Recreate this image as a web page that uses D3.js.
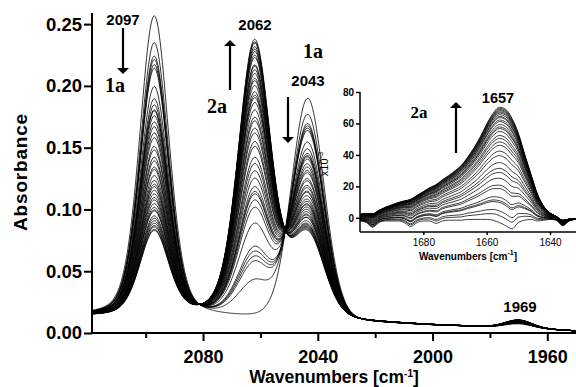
<!DOCTYPE html>
<html><head><meta charset="utf-8">
<script src="https://cdn.jsdelivr.net/npm/d3@7"></script>
<style>body{margin:0;background:#fff} svg{display:block}</style>
</head><body>
<svg id="chart" width="576" height="387"></svg>
<script>
// ---------- main plot data (band amplitudes above baseline, per spectrum) ----------
const bandCenters = [2097, 2062, 2043.5, 1970];
const bandWidths  = [12, 13.5, 13.5, 11];      // FWHM, cm-1
const bandLorentz = [0.3, 0.3, 0.1, 0];
const amp2097 = [0.244,0.222,0.211,0.208,0.204,0.201,0.186,0.176,0.171,0.167,0.166,0.162,0.157,0.153,0.148,0.144,0.137,0.134,0.128,0.125,0.120,0.118,0.113,0.109,0.106,0.104,0.101,0.098,0.095,0.093,0.090,0.087,0.085,0.084,0.080,0.078,0.076,0.074,0.072,0.071,0.069,0.068];
const amp2062 = [0,0.028,0.043,0.047,0.051,0.055,0.074,0.087,0.093,0.098,0.100,0.104,0.111,0.117,0.123,0.128,0.137,0.141,0.148,0.152,0.158,0.161,0.167,0.173,0.177,0.179,0.182,0.187,0.191,0.193,0.197,0.200,0.203,0.204,0.210,0.212,0.215,0.217,0.219,0.222,0.223,0.225];
const amp2043 = [0.179,0.165,0.157,0.155,0.153,0.151,0.141,0.135,0.131,0.129,0.128,0.126,0.122,0.119,0.116,0.114,0.109,0.107,0.103,0.101,0.098,0.097,0.094,0.091,0.089,0.087,0.086,0.084,0.082,0.080,0.078,0.077,0.075,0.075,0.072,0.070,0.069,0.068,0.067,0.066,0.065,0.064];
const amp1969 = [0.0030,0.0034,0.0036,0.0036,0.0037,0.0037,0.0040,0.0042,0.0042,0.0043,0.0043,0.0044,0.0045,0.0046,0.0046,0.0047,0.0048,0.0049,0.0050,0.0050,0.0051,0.0051,0.0052,0.0053,0.0054,0.0054,0.0054,0.0055,0.0055,0.0056,0.0056,0.0057,0.0057,0.0057,0.0058,0.0058,0.0059,0.0059,0.0059,0.0060,0.0060,0.0060];
const baselineWn  = [2119, 2080, 2043, 2000, 1969, 1950];
const baselineAbs = [0.013, 0.012, 0.010, 0.006, 0.004, 0.0015];
const yTicks = [0, 0.05, 0.10, 0.15, 0.20, 0.25];
const xTicksMajor = [2080, 2040, 2000, 1960];
const xTicksMinor = [2100, 2060, 2020, 1980];

// ---------- inset data (x10^-3) ----------
const insetWn  = [1700,1698,1696,1694,1692,1690,1688,1686,1684,1682,1680,1678,1676,1674,1672,1670,1668,1666,1664,1662,1660,1658,1656,1654,1652,1650,1648,1646,1644,1642,1640,1638,1636,1634,1632];
const insetTop = [3,4,5,6,7.5,9,10.5,12,14,15.5,17.5,20,22.5,25,27.5,30.5,34,39,45,52,60,67,71.5,71,66,55,41,28,16,8,3.5,1.5,0.5,0,0];
const insetDips = [-2,-3,-6,-3,-2,-2,-2,-3,-5.5,-3,-2,-2,-3.5,-2,-1.5,-1.5,-1.5,-1,-1,-1,-1,-1.5,-3,-5,-7,-3,-1.5,-1,-2,-1.5,-1,-1.5,-5,-2,-1];
const insetPeaks = [71.5,70.8,70.1,69.4,68.6,67.9,66.9,65.8,65.1,63.6,62.6,60.8,59.3,58.3,56.5,54,52.2,50,47.9,44.3,41.5,37.2,33.6,31.1,27.5,23.2,21.1,15.7,13.6,12.5,7.2,4.3,0];
const insetYTicks = [0, 20, 40, 60, 80];
const insetXTicks = [1680, 1660, 1640];

// ---------- labels ----------
const peakLabels = ["2097", "2062", "2043", "1969"];

const svg = d3.select("#chart");
const FONT = "'Liberation Sans', Arial, Helvetica, sans-serif";
const SERIF = "'Liberation Serif', 'Times New Roman', serif";

// scales
const x = d3.scaleLinear().domain([2118.7, 1950]).range([92, 576]);
const y = d3.scaleLinear().domain([0, 0.259]).range([333, 13]);
const base = d3.scaleLinear().domain(baselineWn).range(baselineAbs);

function pv(w, c, fw, eta) {
  const u = (w - c) / fw;
  return (1 - eta) * Math.exp(-4 * Math.LN2 * u * u) + eta / (1 + 4 * u * u);
}
const grid = d3.range(2118.7, 1949.9, -0.25);
const spectra = amp2097.map((a, i) => {
  const amps = [a, amp2062[i], amp2043[i], amp1969[i]];
  return grid.map(w => {
    let v = base(w);
    amps.forEach((am, k) => { v += am * pv(w, bandCenters[k], bandWidths[k], bandLorentz[k]); });
    return [w, v];
  });
});

const line = d3.line().x(d => x(d[0])).y(d => y(d[1]));
svg.append("clipPath").attr("id", "clipMain").append("rect")
  .attr("x", 92).attr("y", 0).attr("width", 484).attr("height", 333);
svg.append("g").attr("clip-path", "url(#clipMain)")
  .selectAll("path").data(spectra).join("path")
  .attr("d", line).attr("fill", "none").attr("stroke", "#000").attr("stroke-width", 0.8);

// axes
const yAxis = d3.axisLeft(y).tickValues(yTicks).tickFormat(d3.format(".2f")).tickSize(8).tickSizeOuter(0).tickPadding(2);
const gy = svg.append("g").attr("transform", "translate(92,0)").call(yAxis);
gy.select(".domain").attr("d", "M0,13V333").attr("stroke-width", 2);
gy.selectAll(".tick line").attr("stroke-width", 2);
gy.selectAll(".tick text").attr("font-family", FONT).attr("font-weight", "bold").attr("font-size", 18.5).attr("fill", "#000");

const xAxis = d3.axisBottom(x).tickValues(xTicksMajor).tickFormat(d3.format("d")).tickSize(8).tickSizeOuter(0).tickPadding(9);
const gx = svg.append("g").attr("transform", "translate(0,333)").call(xAxis);
gx.select(".domain").attr("d", "M91,0H576").attr("stroke-width", 2);
gx.selectAll(".tick line").attr("stroke-width", 2);
gx.selectAll(".tick text").attr("font-family", FONT).attr("font-weight", "bold").attr("font-size", 18).attr("fill", "#000");
const xMinor = d3.axisBottom(x).tickValues(xTicksMinor).tickFormat("").tickSize(5).tickSizeOuter(0);
const gxm = svg.append("g").attr("transform", "translate(0,333)").call(xMinor);
gxm.select(".domain").remove();
gxm.selectAll(".tick line").attr("stroke-width", 2);

// axis titles
svg.append("text").attr("transform", "translate(27,172) rotate(-90)")
  .attr("text-anchor", "middle").attr("font-family", FONT).attr("font-weight", "bold").attr("font-size", 19)
  .attr("letter-spacing", 0.8).attr("fill", "#000").text("Absorbance");
const xt = svg.append("text").attr("x", 334).attr("y", 383).attr("text-anchor", "middle")
  .attr("font-family", FONT).attr("font-weight", "bold").attr("font-size", 17.5).attr("fill", "#000");
xt.append("tspan").text("Wavenumbers [cm");
xt.append("tspan").attr("font-size", 10).attr("dy", -6).text("-1");
xt.append("tspan").attr("dy", 6).text("]");

// ---------- inset ----------
const ix = d3.scaleLinear().domain([1700, 1631.8]).range([360, 576]);
const iy = d3.scaleLinear().domain([-9, 80]).range([232, 92]);
svg.append("rect").attr("x", 360).attr("y", 92).attr("width", 216).attr("height", 140).attr("fill", "#fff");
const topMax = d3.max(insetTop);
const insetCurves = insetPeaks.map(p => {
  const s = p / topMax;
  return insetWn.map((w, j) => [w, s * insetTop[j] + insetDips[j] * (1 - 0.6 * s)]);
});
const iline = d3.line().x(d => ix(d[0])).y(d => iy(d[1])).curve(d3.curveMonotoneX);
svg.append("clipPath").attr("id", "clipInset").append("rect")
  .attr("x", 360).attr("y", 80).attr("width", 216).attr("height", 152);
svg.append("g").attr("clip-path", "url(#clipInset)")
  .selectAll("path").data(insetCurves).join("path")
  .attr("d", iline).attr("fill", "none").attr("stroke", "#000").attr("stroke-width", 0.75);

const iyAxis = d3.axisLeft(iy).tickValues(insetYTicks).tickFormat(d3.format("d")).tickSize(4).tickSizeOuter(0).tickPadding(2);
const giy = svg.append("g").attr("transform", "translate(360,0)").call(iyAxis);
giy.select(".domain").attr("d", "M0,92V232").attr("stroke-width", 1.5);
giy.selectAll(".tick line").attr("stroke-width", 1.5);
giy.selectAll(".tick text").attr("font-family", FONT).attr("font-weight", "bold").attr("font-size", 10).attr("fill", "#000");
const ixAxis = d3.axisBottom(ix).tickValues(insetXTicks).tickFormat(d3.format("d")).tickSize(3).tickSizeOuter(0).tickPadding(4);
const gix = svg.append("g").attr("transform", "translate(0,232)").call(ixAxis);
gix.select(".domain").attr("d", "M360,0H576").attr("stroke-width", 1.5);
gix.selectAll(".tick line").attr("stroke-width", 1.5);
gix.selectAll(".tick text").attr("font-family", FONT).attr("font-size", 10).attr("fill", "#000");
const ixt = svg.append("text").attr("x", 468).attr("y", 260).attr("text-anchor", "middle")
  .attr("font-family", FONT).attr("font-weight", "bold").attr("font-size", 10).attr("fill", "#000");
ixt.append("tspan").text("Wavenumbers [cm");
ixt.append("tspan").attr("font-size", 7).attr("dy", -5).text("-1");
ixt.append("tspan").attr("dy", 5).text("]");
const sc = svg.append("text").attr("transform", "translate(328,164) rotate(-90)").attr("text-anchor", "middle")
  .attr("font-family", FONT).attr("font-size", 11).attr("fill", "#000");
sc.append("tspan").text("x10");
sc.append("tspan").attr("font-size", 7.5).attr("dy", -5).text("-3");

// ---------- annotations (drawn on top) ----------
const labelPos = {"2097": [123, 25], "2062": [255, 30], "2043": [308, 86], "1969": [520, 312]};
svg.selectAll("text.peak").data(peakLabels).join("text").attr("class", "peak")
  .attr("x", d => labelPos[d][0]).attr("y", d => labelPos[d][1]).attr("text-anchor", "middle")
  .attr("font-family", FONT).attr("font-weight", "bold").attr("font-size", 15).attr("fill", "#000").text(d => d);
svg.append("text").attr("x", 498).attr("y", 103).attr("text-anchor", "middle")
  .attr("font-family", FONT).attr("font-weight", "bold").attr("font-size", 14.5).attr("fill", "#000").text("1657");

const species = [{t:"1a", x:115, y:92, s:20}, {t:"1a", x:313, y:58, s:20}, {t:"2a", x:217, y:113, s:20}, {t:"2a", x:419, y:118, s:17}];
svg.selectAll("text.sp").data(species).join("text").attr("class", "sp")
  .attr("x", d => d.x).attr("y", d => d.y).attr("text-anchor", "middle")
  .attr("font-family", SERIF).attr("font-weight", "bold").attr("font-size", d => d.s).attr("fill", "#000").text(d => d.t);

const defs = svg.append("defs");
defs.append("marker").attr("id", "ah").attr("viewBox", "0 0 6 12").attr("refX", 3).attr("refY", 6)
  .attr("markerUnits", "userSpaceOnUse").attr("markerWidth", 6).attr("markerHeight", 12).attr("orient", "auto")
  .append("path").attr("d", "M0,0L6,6L0,12Z").attr("fill", "#000");
const arrows = [{x:123, y1:28, y2:79}, {x:230, y1:90, y2:35}, {x:288, y1:97, y2:148}, {x:456, y1:153, y2:97}];
svg.selectAll("line.arr").data(arrows).join("line").attr("class", "arr")
  .attr("x1", d => d.x).attr("x2", d => d.x)
  .attr("y1", d => d.y1).attr("y2", d => d.y2 + (d.y2 > d.y1 ? -8 : 8))
  .attr("stroke", "#000").attr("stroke-width", 2.2).attr("marker-end", "url(#ah)");
</script>
</body></html>
